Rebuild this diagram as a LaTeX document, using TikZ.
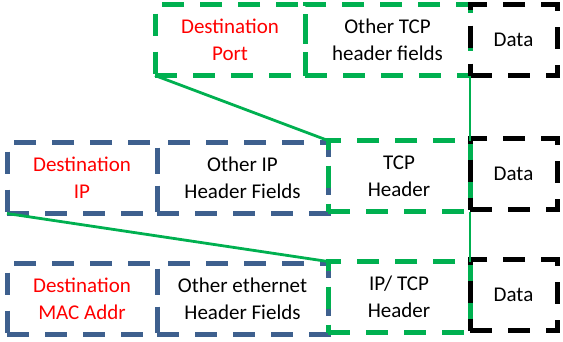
\documentclass[tikz,border=0pt]{standalone}
\usepackage{fontspec}
\setmainfont{Carlito}
\usetikzlibrary{
    positioning,
    calc,
}
\definecolor{hdrblue}{RGB}{62,96,142}
\definecolor{hdrgreen}{RGB}{0,176,80}

\begin{document}
\begin{tikzpicture}[
    x=1pt, y=-1pt,
    field/.style={draw, line width=5pt, dash pattern=on 22pt off 16pt, align=center, inner sep=0pt, outer sep=0pt, minimum height=71pt, font=\fontsize{21}{27}\selectfont},
    ipfield/.style={field, color=hdrblue, text=black},
    tcpfield/.style={field, color=hdrgreen, text=black},
    datafield/.style={field, color=black, minimum width=87pt},
    dest/.style={text=red},
    link/.style={hdrgreen, line width=2.8pt},
]
\useasboundingbox (0,0) rectangle (563,341);

% TCP segment
\node[tcpfield, dest, minimum width=150pt] (port) at (230,40) {Destination\\Port};
\node[tcpfield, minimum width=165pt, right=0pt of port] (tcpother) {Other TCP\\header fields};
\node[datafield, right=0pt of tcpother] (tcpdata) {Data};

% IP packet
\node[ipfield, dest, minimum width=150pt] (destip) at (82,178) {Destination\\IP};
\node[ipfield, minimum width=171pt, right=0pt of destip] (ipother) {Other IP\\Header Fields};
\node[tcpfield, minimum width=142pt, right=0pt of ipother, yshift=2pt] (tcphdr) {TCP\\Header};
\node[datafield, right=0pt of tcphdr, yshift=2pt] (ipdata) {Data};

% Ethernet frame
\node[ipfield, dest, minimum width=150pt] (destmac) at (82,299) {Destination\\MAC Addr};
\node[ipfield, minimum width=171pt, right=0pt of destmac] (ethother) {Other ethernet\\Header Fields};
\node[tcpfield, minimum width=142pt, right=0pt of ethother, yshift=2pt] (iptcp) {IP/ TCP\\Header};
\node[datafield, right=0pt of iptcp, yshift=2pt] (ethdata) {Data};

\draw[link] (port.south west) -- (tcphdr.north west);
\draw[link] (tcpother.south east) -- (tcphdr.north east);
\draw[link] (destip.south west) -- (iptcp.north west);
\draw[link] (tcphdr.south east) -- (iptcp.north east);

\end{tikzpicture}
\end{document}
